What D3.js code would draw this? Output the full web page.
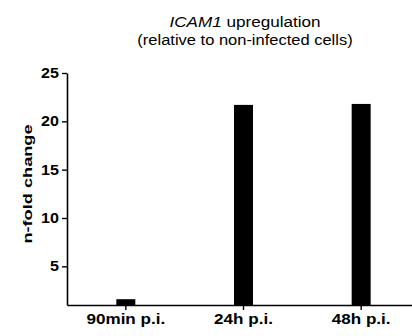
<!DOCTYPE html>
<html>
<head>
<meta charset="utf-8">
<script src="https://cdn.jsdelivr.net/npm/d3@7"></script>
<style>
  body { margin: 0; background: #fff; }
  svg { display: block; font-family: "Liberation Sans", Arial, sans-serif; }
</style>
</head>
<body>
<div id="chart"></div>
<script>
// values
const categories = ["90min p.i.", "24h p.i.", "48h p.i."];
const foldChange = [1.6, 21.7, 21.8];
const yTicks = [5, 10, 15, 20, 25];

const width = 412, height = 336;
const margin = { top: 73, right: -8, bottom: 31, left: 67 };
const innerWidth = width - margin.left - margin.right,
  innerHeight = height - margin.top - margin.bottom;

const svg = d3.select("#chart")
  .append("svg")
  .attr("width", width)
  .attr("height", height);

const g = svg.append("g")
  .attr("transform", `translate(${margin.left},${margin.top})`);

const x = d3.scaleBand().domain(categories).range([0, innerWidth]);
const y = d3.scaleLinear().domain([1, 25]).range([innerHeight, 0]);

const barWidth = 19;

g.append("g")
  .selectAll("rect")
  .data(categories)
  .join("rect")
  .attr("x", (d) => x(d) + x.bandwidth() / 2 - barWidth / 2)
  .attr("y", (d, i) => y(foldChange[i]))
  .attr("width", barWidth)
  .attr("height", (d, i) => y(1) - y(foldChange[i]))
  .attr("fill", "#000");

// y axis
const yAxis = g.append("g")
  .call(d3.axisLeft(y).tickValues(yTicks).tickSize(5).tickPadding(2).tickSizeOuter(0));
yAxis.select(".domain").attr("stroke-width", 1.6);
yAxis.selectAll(".tick line").attr("stroke-width", 1.4);
yAxis.selectAll("text")
  .attr("font-size", 14)
  .attr("font-weight", "bold")
  .attr("transform", "scale(1.15,1)")
  .attr("font-family", "Liberation Sans, Arial, sans-serif")
  .attr("fill", "#000");

// x axis
const xAxis = g.append("g")
  .attr("transform", `translate(0,${innerHeight})`)
  .call(d3.axisBottom(x).tickSize(5).tickPadding(4).tickSizeOuter(0));
xAxis.select(".domain").attr("stroke-width", 1.6);
xAxis.selectAll(".tick line").attr("stroke-width", 1.4);
xAxis.selectAll("text")
  .attr("font-size", 14)
  .attr("font-weight", "bold")
  .attr("transform", "scale(1.22,1)")
  .attr("font-family", "Liberation Sans, Arial, sans-serif")
  .attr("fill", "#000");

// axis title
svg.append("text")
  .attr("transform", "translate(32,184) rotate(-90) scale(1.4,1)")
  .attr("text-anchor", "middle")
  .attr("font-size", 13)
  .attr("font-weight", "bold")
  .text("n-fold change");

// title
const title = svg.append("text")
  .attr("transform", "translate(245,27) scale(1.14,1)")
  .attr("text-anchor", "middle")
  .attr("font-size", 15);
title.append("tspan").attr("font-style", "italic").text("ICAM1");
title.append("tspan").text(" upregulation");

svg.append("text")
  .attr("transform", "translate(245,45) scale(1.1,1)")
  .attr("text-anchor", "middle")
  .attr("font-size", 15)
  .text("(relative to non-infected cells)");
</script>
</body>
</html>
